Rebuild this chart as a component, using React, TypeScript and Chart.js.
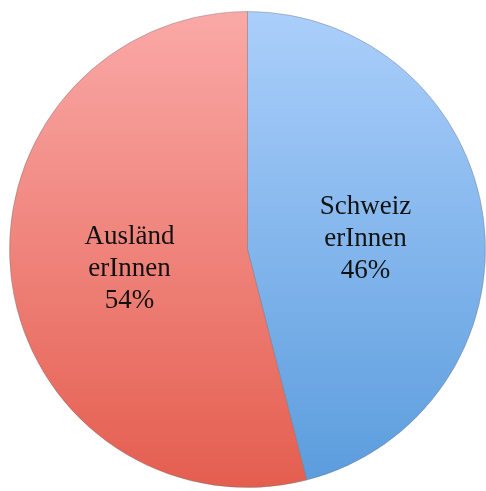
import React, { useEffect, useRef } from "react";
import { Chart, registerables } from "chart.js";

Chart.register(...registerables);

const categories: string[] = ["SchweizerInnen", "AusländerInnen"];
const labelLines: string[][] = [["Schweiz", "erInnen", "46%"], ["Ausländ", "erInnen", "54%"]];
const values: number[] = [46, 54];
const topColors: string[] = ["#abcffb", "#faa9a7"];
const bottomColors: string[] = ["#5a9cdd", "#e45e4f"];

const labelPlugin = {
  id: "inLabels",
  afterDatasetsDraw(chart: any) {
    const ctx = chart.ctx;
    const meta = chart.getDatasetMeta(0);
    ctx.save();
    ctx.font = '27px "Liberation Serif", serif';
    ctx.fillStyle = "#111";
    ctx.textAlign = "center";
    ctx.textBaseline = "middle";
    meta.data.forEach((arc: any, i: number) => {
      const p = arc.getProps(["x", "y", "startAngle", "endAngle", "outerRadius"], true);
      const mid = (p.startAngle + p.endAngle) / 2;
      const r = p.outerRadius * 0.5;
      const cx = p.x + Math.cos(mid) * r;
      const cy = p.y + Math.sin(mid) * r + 4;
      const lines = labelLines[i];
      const lh = 32;
      lines.forEach((t, j) => {
        ctx.fillText(t, cx, cy + (j - (lines.length - 1) / 2) * lh);
      });
    });
    ctx.restore();
  },
};

export default function App() {
  const ref = useRef<HTMLCanvasElement>(null);
  useEffect(() => {
    if (!ref.current) return;
    const chart = new Chart(ref.current, {
      type: "pie",
      data: {
        labels: categories,
        datasets: [
          {
            data: values,
            backgroundColor: (c: any) => {
              const ch = c.chart;
              const area = ch.chartArea;
              if (!area) return topColors[c.dataIndex];
              const g = ch.ctx.createLinearGradient(0, area.top, 0, area.bottom);
              g.addColorStop(0, topColors[c.dataIndex]);
              g.addColorStop(1, bottomColors[c.dataIndex]);
              return g;
            },
            borderColor: "rgba(110,110,120,0.4)",
            borderWidth: 1,
          },
        ],
      },
      options: {
        responsive: false,
        animation: false,
        layout: { padding: { left: 9, right: 0, top: 11, bottom: 3 } },
        plugins: { legend: { display: false }, tooltip: { enabled: false } },
      },
      plugins: [labelPlugin],
    });
    return () => chart.destroy();
  }, []);
  return (
    <div style={{ position: "fixed", left: 0, top: 0, width: 486, height: 491, background: "#fff" }}>
      <canvas ref={ref} width={486} height={491} />
    </div>
  );
}
